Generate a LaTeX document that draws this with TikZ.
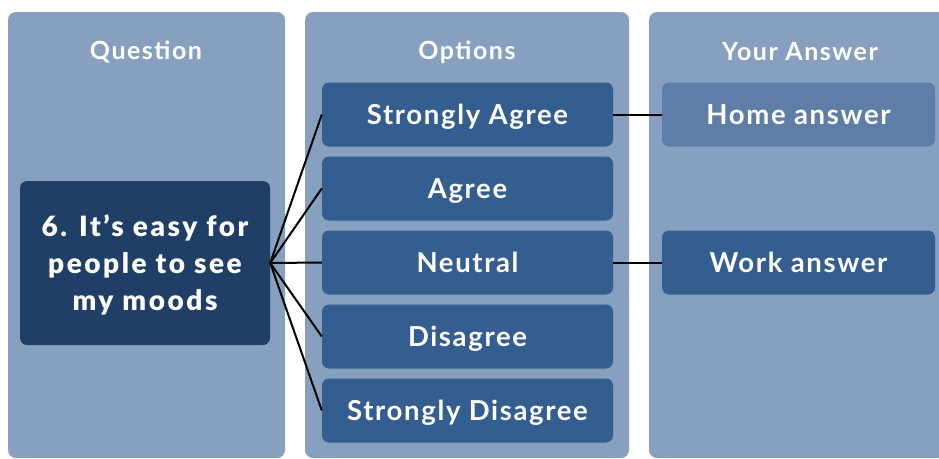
\documentclass[tikz,border=0pt]{standalone}
\usepackage{fontspec}
\setmainfont{Lato}[LetterSpace=6]
\newfontfamily\heavyfont{Lato Black}[LetterSpace=9]
\definecolor{panelblue}{HTML}{87A0BF}
\definecolor{questblue}{HTML}{1F3F67}
\definecolor{optblue}{HTML}{345D90}
\definecolor{homeblue}{HTML}{5E7EA8}
\tikzset{
  panel/.style={fill=panelblue, rounded corners=8pt},
  header/.style={text=white, text height=17.5pt, text depth=0pt, font=\bfseries\fontsize{25}{28}\selectfont},
  optbox/.style={fill=optblue, rounded corners=7pt, text=white, minimum width=291pt, minimum height=64pt,
                 text height=20pt, text depth=0pt, font=\bfseries\fontsize{27.5}{32}\selectfont},
  link/.style={line width=2pt, black}
}
\begin{document}
\begin{tikzpicture}[x=1pt, y=-1pt]
    \useasboundingbox (0,0) rectangle (939,458);
    % columns
    \fill[panel] (8,12) rectangle (285,458);
    \fill[panel] (305,12) rectangle (629,458);
    \fill[panel] (649,12) rectangle (946,458);
    \node[header] (hq) at (146,51) {Question};
    \node[header] (ho) at (467,51) {Options};
    \node[header] (ha) at (800,52) {Your Answer};
    % question
    \node[fill=questblue, rounded corners=7pt, text=white, minimum width=250pt, minimum height=164pt,
          align=center, text depth=0pt, font=\heavyfont\fontsize{28}{37}\selectfont] (quest) at (145,263)
          {6. It’s easy for\\people to see\\my moods};
    % options
    \node[optbox] (sagree) at (467.5,114.5) {Strongly Agree};
    \node[optbox] (agree) at (467.5,188.5) {Agree};
    \node[optbox] (neutral) at (467.5,262.5) {Neutral};
    \node[optbox] (disagree) at (467.5,336.5) {Disagree};
    \node[optbox] (sdisagree) at (467.5,410.5) {Strongly Disagree};
    % answers
    \node[optbox, fill=homeblue, minimum width=273pt] (home) at (798.5,114.5) {Home answer};
    \node[optbox, minimum width=273pt] (work) at (798.5,262.5) {Work answer};
    % links
    \foreach \o in {sagree,agree,neutral,disagree,sdisagree}
        \draw[link] (quest.east) -- (\o.west);
    \draw[link] (sagree.east) -- (home.west);
    \draw[link] (neutral.east) -- (work.west);
\end{tikzpicture}
\end{document}
